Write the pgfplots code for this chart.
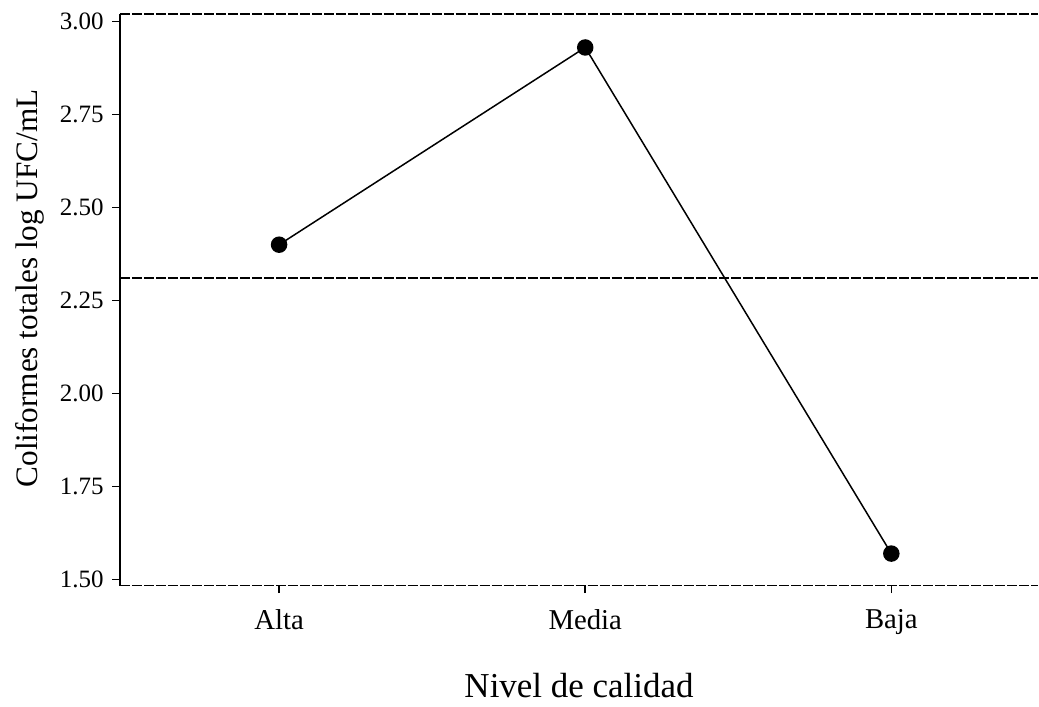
\documentclass[border=0pt]{standalone}
\usepackage{pgfplots}
\pgfplotsset{compat=1.18}
\usepackage{fontspec}
\setmainfont{Liberation Serif}
\begin{document}
\begin{tikzpicture}
\begin{axis}[
 name=ax,
 scale only axis,
 width=367.6pt, height=228.8pt,
 xmin=-0.52, xmax=2.48,
 ymin=1.484, ymax=3.02,
 clip=false,
 axis x line=bottom, axis y line=left,
 axis line style={-},
 x axis line style={dash pattern=on 4pt off 0.8pt, line width=0.6pt},
 y axis line style={line width=0.9pt},
 xtick={0,1,2}, xticklabels={Alta,Media,Baja},
 ytick={1.5,1.75,2,2.25,2.5,2.75,3},
 /pgf/number format/assume math mode=true,
 yticklabel style={/pgf/number format/fixed, /pgf/number format/fixed zerofill, /pgf/number format/precision=2, font=\fontsize{10}{12}\selectfont},
 xticklabel style={font=\fontsize{11.5}{13}\selectfont, yshift=-3pt},
 tick align=outside,
 major tick length=3pt,
 tick style={black, line width=0.6pt},
 xlabel={Nivel de calidad},
 ylabel={Coliformes totales log UFC/mL},
 xlabel style={font=\fontsize{14}{16}\selectfont, at={(axis description cs:0.5,-0.175)}, anchor=center},
 ylabel style={font=\fontsize{12.5}{14}\selectfont, at={(axis description cs:-0.098,0.52)}, anchor=center},
]
\addplot[black, dash pattern=on 4pt off 0.8pt, line width=0.6pt] coordinates {(-0.52,2.31) (2.48,2.31)};
\addplot[black, dash pattern=on 4pt off 0.8pt, line width=0.6pt] coordinates {(-0.52,3.02) (2.48,3.02)};
\addplot[black, line width=0.6pt, mark=*, mark size=3pt, mark options={fill=black}] coordinates {(0,2.40) (1,2.93) (2,1.57)};
\end{axis}
\path[use as bounding box] ([shift={(-48pt,-46.4pt)}]ax.south west) rectangle ([shift={(0pt,5.6pt)}]ax.north east);
\end{tikzpicture}
\end{document}
